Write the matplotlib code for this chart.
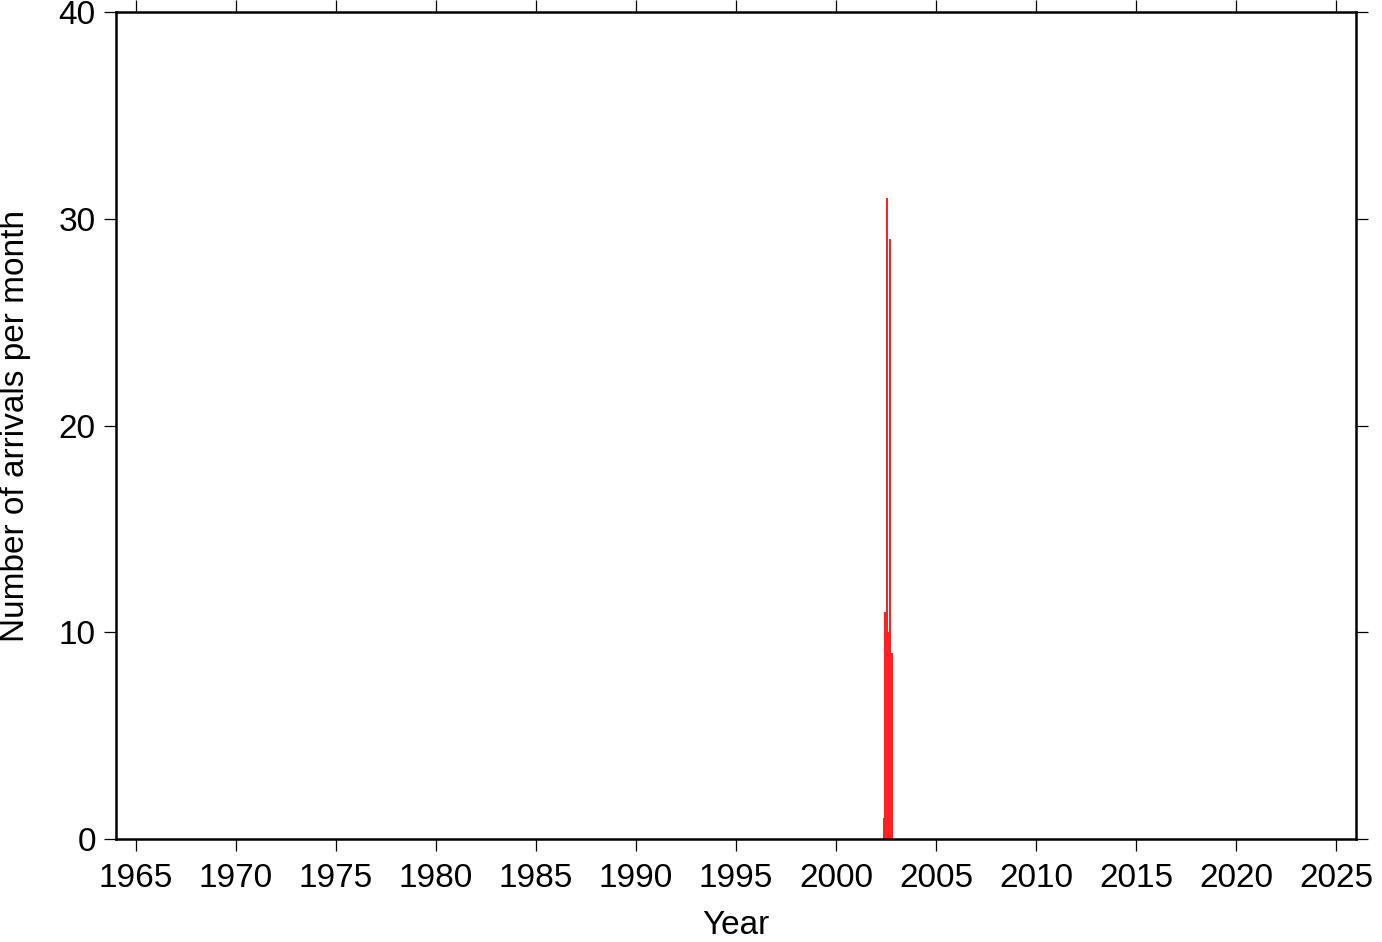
import matplotlib
matplotlib.use('Agg')
import matplotlib.pyplot as plt

# monthly arrival counts (only non-zero months shown)
months = ['2002-05', '2002-06', '2002-07', '2002-08', '2002-09', '2002-10']
counts = [1, 11, 31, 10, 29, 9]

x_ticks = list(range(1965, 2030, 5))
y_ticks = [0, 10, 20, 30, 40]

def month_to_year(m):
    y, mo = m.split('-')
    return int(y) + (int(mo) - 1) / 12.0

plt.rcParams['font.family'] = ['Liberation Sans', 'DejaVu Sans']

fig = plt.figure(figsize=(13.82, 9.42), dpi=100)
ax = fig.add_axes([116 / 1382, 103 / 942, 1240 / 1382, 827 / 942])

xs = [month_to_year(m) for m in months]
ax.bar(xs, counts, width=1 / 12.0, align='edge', color='#ff2020', edgecolor='none')

ax.set_xlim(1964, 2026)
ax.set_ylim(0, 40)
ax.set_xticks(x_ticks)
ax.set_yticks(y_ticks)

for s in ax.spines.values():
    s.set_linewidth(1.8)

ax.tick_params(direction='out', length=8.5, width=0.9, labelsize=24, pad=6,
               top=True, right=True, labeltop=False, labelright=False)
ax.tick_params(axis='x', pad=9)

ax.set_xlabel('Year', fontsize=24, labelpad=11)
ax.set_ylabel('Number of arrivals per month', fontsize=24, labelpad=20)

fig.savefig('out.png', dpi=100)
